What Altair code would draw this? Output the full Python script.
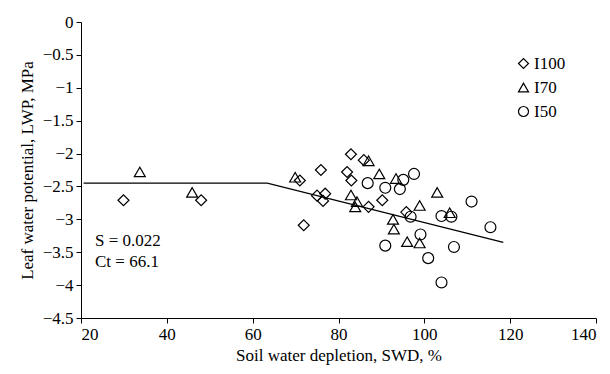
import altair as alt
import pandas as pd

FONT = "Liberation Serif"

groups = ["I100", "I70", "I50"]
shapes = ["diamond", "triangle-up", "circle"]

i100_x = [29.9, 48.0, 82.9, 85.9, 75.9, 82.0, 83.0, 71.0, 75.0, 76.9, 76.4, 90.2, 87.0, 71.9, 95.8]
i100_y = [-2.71, -2.71, -2.01, -2.10, -2.25, -2.28, -2.41, -2.41, -2.64, -2.61, -2.72, -2.71, -2.81, -3.09, -2.89]
i70_x = [33.7, 45.9, 69.9, 87.0, 89.5, 93.4, 82.9, 84.3, 83.9, 103.0, 98.9, 92.7, 92.9, 96.0, 98.9, 105.9]
i70_y = [-2.28, -2.59, -2.36, -2.11, -2.31, -2.38, -2.63, -2.73, -2.81, -2.59, -2.79, -3.00, -3.15, -3.34, -3.36, -2.90]
i50_x = [86.8, 90.9, 94.3, 95.1, 97.6, 111.0, 104.0, 106.3, 96.8, 115.4, 99.1, 90.9, 106.9, 100.9, 104.0]
i50_y = [-2.45, -2.52, -2.54, -2.40, -2.31, -2.73, -2.95, -2.96, -2.96, -3.12, -3.23, -3.40, -3.42, -3.59, -3.96]

fit_x = [20.6, 63.4, 118.4]
fit_y = [-2.45, -2.45, -3.35]

x_ticks = [20, 40, 60, 80, 100, 120, 140]
y_ticks = [-4.5, -4.0, -3.5, -3.0, -2.5, -2.0, -1.5, -1.0, -0.5, 0.0]

annot = ["S = 0.022", "Ct = 66.1"]

rows = []
for g, xs, ys in [("I100", i100_x, i100_y), ("I70", i70_x, i70_y), ("I50", i50_x, i50_y)]:
    for a, b in zip(xs, ys):
        rows.append({"swd": a, "lwp": b, "group": g})
pts = pd.DataFrame(rows)
fit = pd.DataFrame({"swd": fit_x, "lwp": fit_y})

xscale = alt.Scale(domain=[20, 140], nice=False, zero=False)
yscale = alt.Scale(domain=[-4.5, 0], nice=False, zero=False)

xaxis = alt.Axis(values=x_ticks, title="Soil water depletion, SWD, %",
                 grid=False, tickSize=5, labelPadding=3, titlePadding=5, labelOverlap=False)
yaxis = alt.Axis(values=y_ticks,
                 labelExpr="datum.value == 0 ? '0' : '\u2212' + format(abs(datum.value), '~g')",
                 title="Leaf water potential, LWP, MPa", grid=False, tickSize=5,
                 labelPadding=3, titlePadding=6, labelOverlap=False, labelBound=False)

X = alt.X("swd:Q", scale=xscale, axis=xaxis)
Y = alt.Y("lwp:Q", scale=yscale, axis=yaxis)

line = alt.Chart(fit).mark_line(color="black", strokeWidth=1.2).encode(x=X, y=Y)

points = alt.Chart(pts).mark_point(filled=False, stroke="black", strokeWidth=1.2, size=120, opacity=1).encode(
    x=X, y=Y,
    shape=alt.Shape("group:N", scale=alt.Scale(domain=groups, range=shapes),
                    legend=alt.Legend(title=None, orient="none", legendX=434, legendY=33,
                                      labelFont=FONT, labelFontSize=17, labelColor="black",
                                      symbolStrokeColor="black", symbolFillColor="transparent",
                                      symbolStrokeWidth=1.2, symbolSize=100, rowPadding=6,
                                      labelOffset=2, padding=0)),
)

t1 = alt.Chart(pd.DataFrame({"t": [annot[0]]})).mark_text(
    align="left", baseline="middle", font=FONT, fontSize=17, color="black"
).encode(x=alt.value(14), y=alt.value(219), text="t:N")
t2 = alt.Chart(pd.DataFrame({"t": [annot[1]]})).mark_text(
    align="left", baseline="middle", font=FONT, fontSize=17, color="black"
).encode(x=alt.value(14), y=alt.value(240), text="t:N")

chart = alt.layer(line, points, t1, t2).properties(
    width=515, height=296,
    autosize=alt.AutoSizeParams(type="none"),
    padding={"left": 73, "top": 14, "right": 6, "bottom": 54},
).configure_view(stroke=None).configure_axis(
    labelFont=FONT, titleFont=FONT, labelFontSize=17, titleFontSize=17,
    labelColor="black", titleColor="black", domainColor="black", tickColor="black",
    titleFontWeight="normal", domainWidth=1, tickWidth=1, labelOverlap=False,
)

chart.save("out.html", embed_options={"renderer": "svg", "actions": False})
